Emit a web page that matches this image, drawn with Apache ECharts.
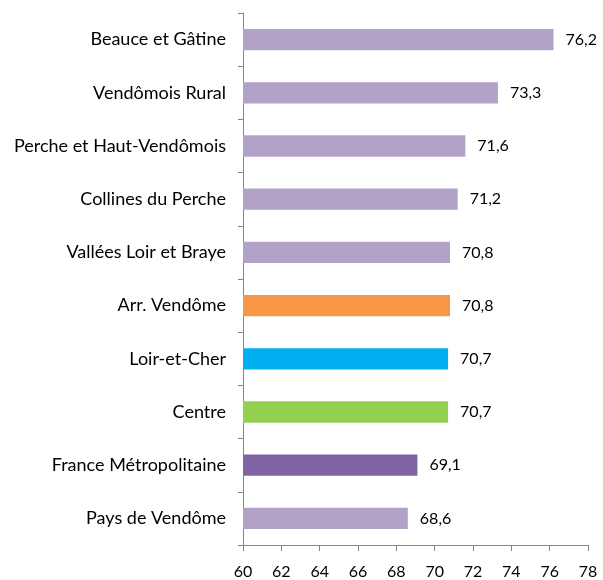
<!DOCTYPE html>
<html>
<head>
<meta charset="utf-8">
<script src="https://cdn.jsdelivr.net/npm/echarts@6/dist/echarts.min.js"></script>
<style>
  html, body { margin: 0; padding: 0; background: #ffffff; }
  #chart { width: 603px; height: 580px; }
</style>
</head>
<body>
<div id="chart"></div>
<script>
// Territories, listed bottom to top as the category axis draws them
const territories = [
  'Pays de Vendôme',
  'France Métropolitaine',
  'Centre',
  'Loir-et-Cher',
  'Arr. Vendôme',
  'Vallées Loir et Braye',
  'Collines du Perche',
  'Perche et Haut-Vendômois',
  'Vendômois Rural',
  'Beauce et Gâtine'
];
const values = [68.6, 69.1, 70.7, 70.7, 70.8, 70.8, 71.2, 71.6, 73.3, 76.2];
const barColors = [
  '#B3A2C7', '#8064A2', '#92D050', '#00B0F0', '#F79646',
  '#B3A2C7', '#B3A2C7', '#B3A2C7', '#B3A2C7', '#B3A2C7'
];
const axisMin = 60;
const axisMax = 78;
const axisStep = 2;

const fontFamily = 'Lato, "Open Sans", sans-serif';
const chart = echarts.init(document.getElementById('chart'), null, { renderer: 'canvas' });

chart.setOption({
  animation: false,
  backgroundColor: '#ffffff',
  grid: { left: 243, right: 15, top: 13, bottom: 33, containLabel: false },
  xAxis: {
    type: 'value',
    min: axisMin,
    max: axisMax,
    interval: axisStep,
    axisLine: { show: true, lineStyle: { color: '#868686', width: 1 } },
    axisTick: { show: true, length: 6, lineStyle: { color: '#868686' } },
    splitLine: { show: false },
    axisLabel: { color: '#000000', fontSize: 16, fontFamily: fontFamily, margin: 19 }
  },
  yAxis: {
    type: 'category',
    data: territories,
    axisLine: { show: true, lineStyle: { color: '#868686', width: 1 } },
    axisTick: { show: true, length: 5, alignWithLabel: false, lineStyle: { color: '#868686' } },
    axisLabel: { color: '#000000', fontSize: 18, fontFamily: fontFamily, margin: 17 }
  },
  series: [{
    type: 'bar',
    data: values.map((v, i) => ({ value: v, itemStyle: { color: barColors[i] } })),
    barCategoryGap: '60%',
    label: {
      show: true,
      position: 'right',
      distance: 12,
      color: '#000000',
      fontSize: 16,
      fontFamily: fontFamily,
      formatter: p => p.value.toFixed(1).replace('.', ',')
    }
  }]
});
</script>
</body>
</html>
